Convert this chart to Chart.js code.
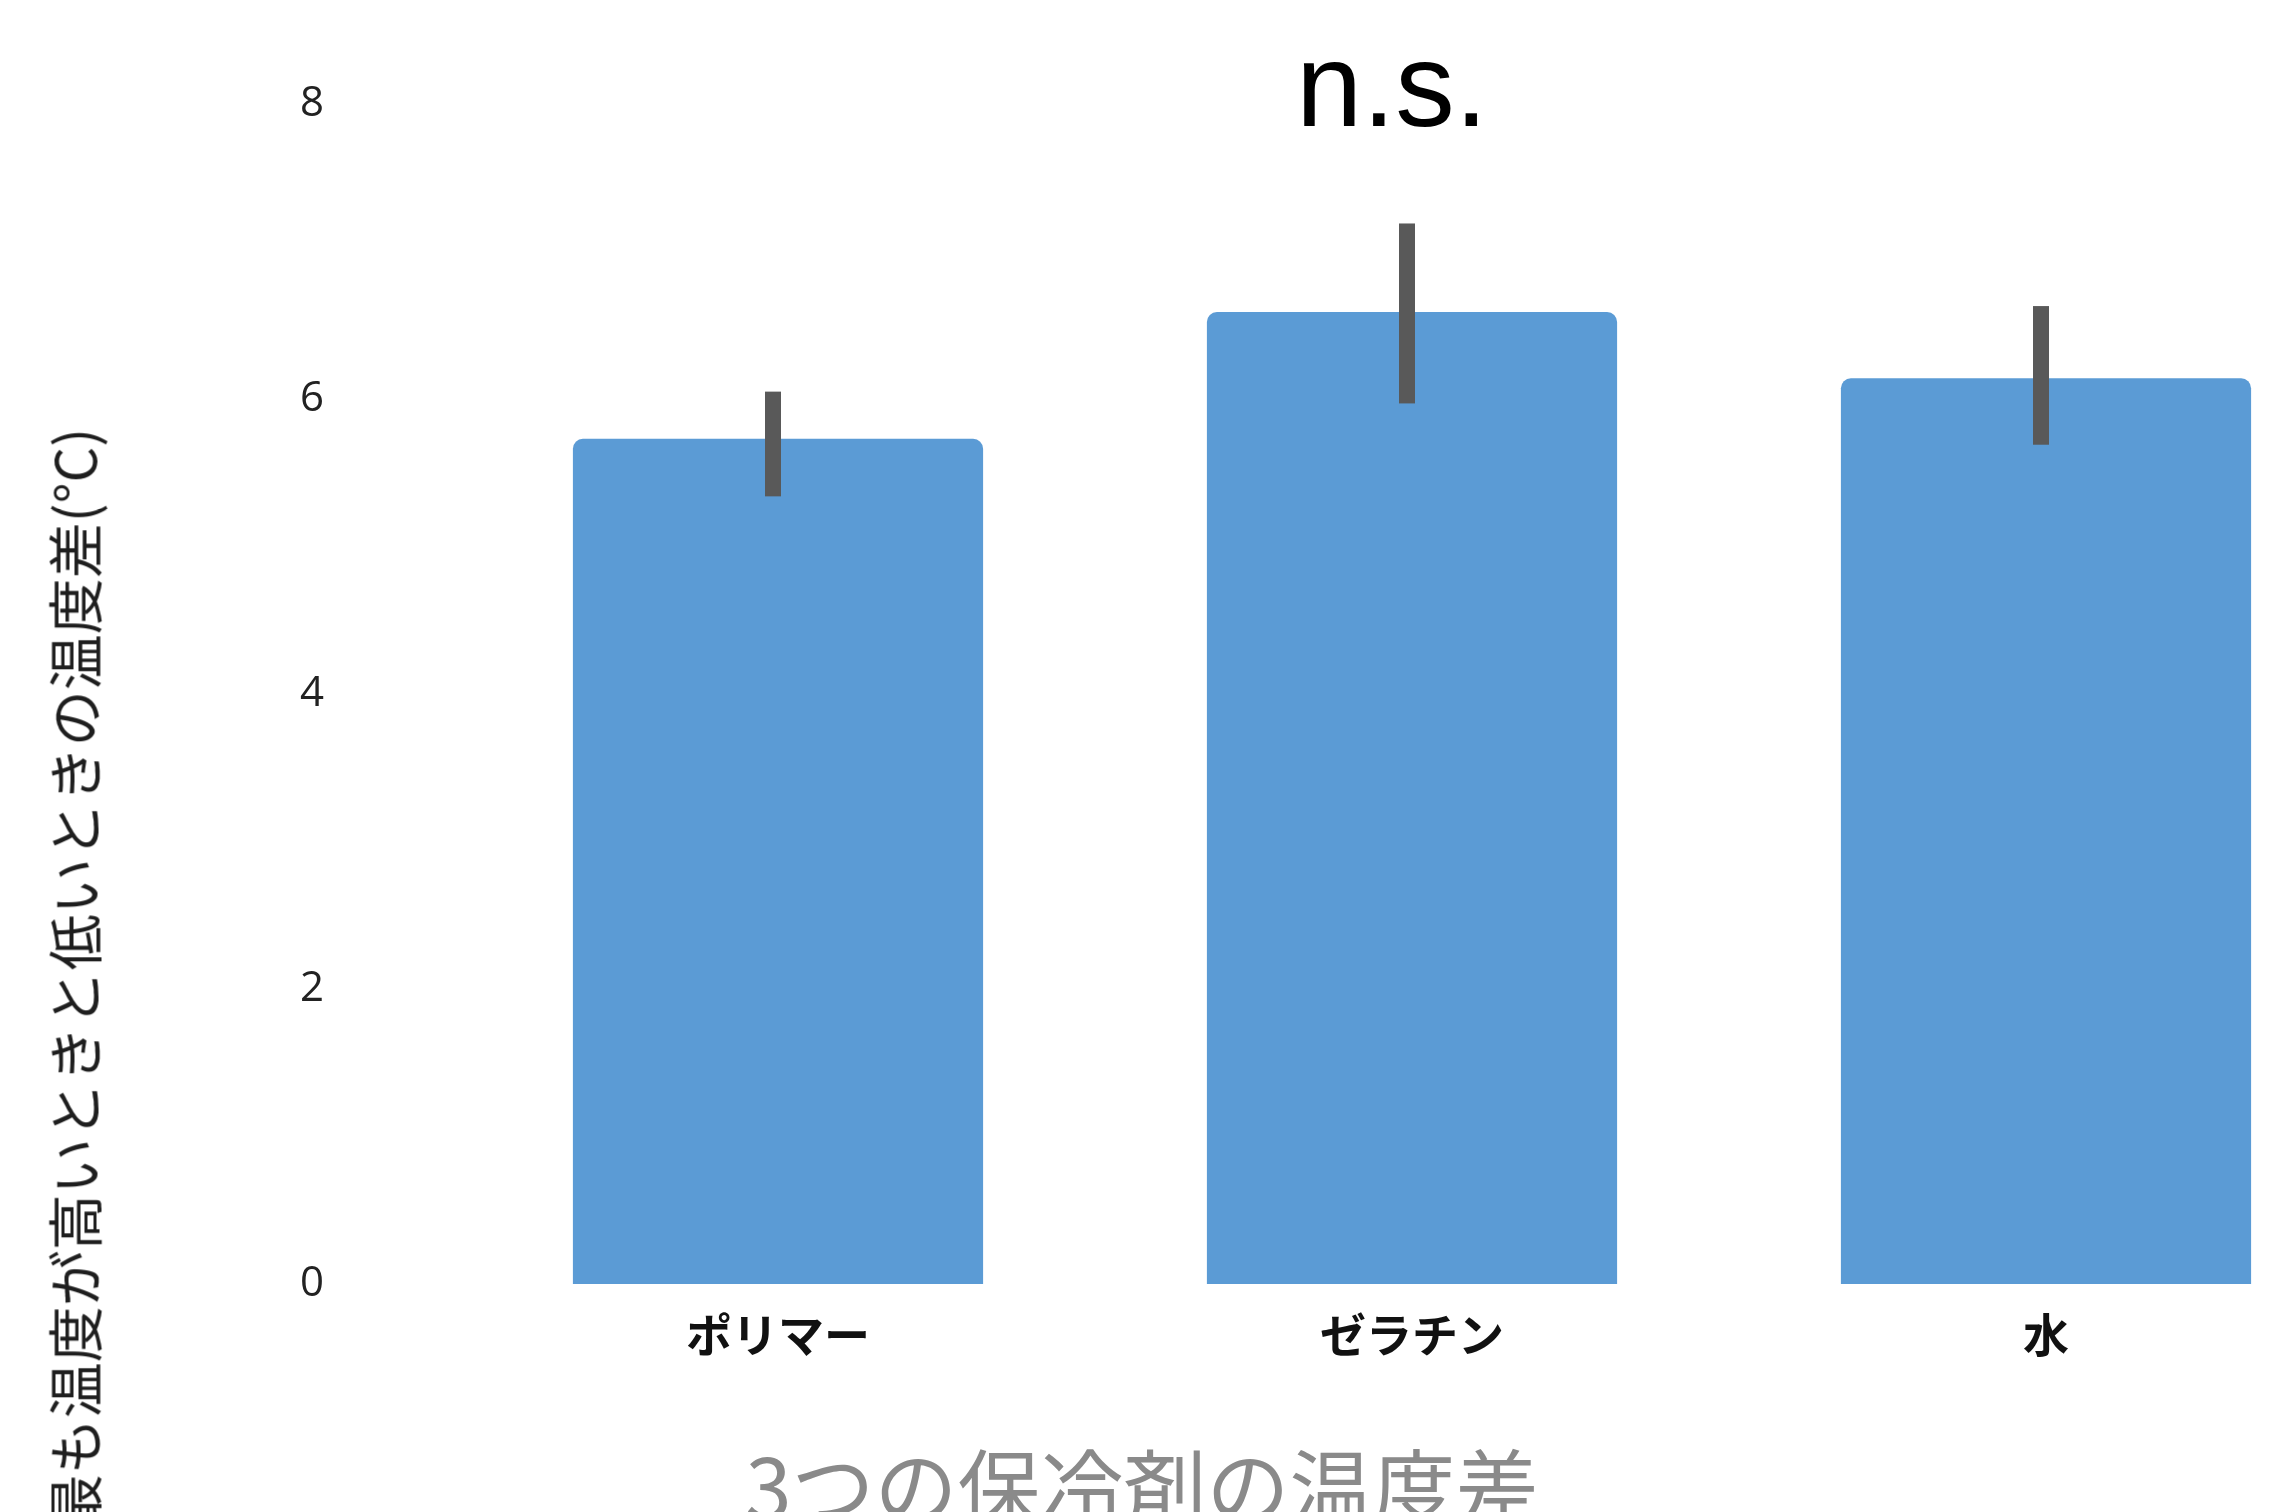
<!DOCTYPE html>
<html lang="ja">
<head>
<meta charset="utf-8">
<title>3つの保冷剤の温度差</title>
<script src="https://cdn.jsdelivr.net/npm/chart.js@4.4.1/dist/chart.umd.min.js"></script>
<style>
  html, body { margin: 0; padding: 0; background: #fff; overflow: hidden; }
  #wrap { position: relative; width: 2271px; height: 1512px; overflow: hidden; background: #fff; }
  #chart { position: absolute; left: 0; top: 0; }
  .txt { position: absolute; white-space: nowrap; line-height: 1; }
  #ns {
    left: 1392px; top: 16px; transform: translateX(-50%);
    font: 119px 'Liberation Sans', Arial, sans-serif; color: #000;
  }
  #x-title {
    left: 1142px; top: 1423px; transform: translateX(-50%);
    font: 83px 'Noto Sans CJK JP', sans-serif; color: #8a8a8a;
  }
  #y-title {
    left: 72px; top: 428px; transform-origin: 0 0;
    transform: rotate(-90deg) translate(-100%, -50%);
    font: 56px 'Noto Sans CJK JP', sans-serif; color: #1e1e1e;
  }
</style>
</head>
<body>
<div id="wrap">
  <canvas id="chart" width="2400" height="1512"></canvas>
  <div class="txt" id="ns">n.s.</div>
  <div class="txt" id="x-title">3つの保冷剤の温度差</div>
  <div class="txt" id="y-title">最も温度が高いときと低いときの温度差(°C)</div>
</div>

<script>
// ---- Data ----
const categories = ['ポリマー', 'ゼラチン', '水'];
const meanDiff   = [5.73, 6.59, 6.14];   // bar heights (°C)
const errLow     = [5.34, 5.97, 5.69];   // error bar bottoms
const errHigh    = [6.05, 7.19, 6.63];   // error bar tops
const yTicks     = [0, 2, 4, 6, 8];

(function() {
  'use strict';

  const colors = {
    bar:   '#5b9bd5',
    err:   '#595959',
    tickY: '#222222',
    tickX: '#111111',
  };

  // ---- error bars drawn on top of the bars ----
  const errorBars = {
    id: 'errorBars',
    afterDatasetsDraw(chart) {
      const { ctx } = chart;
      const y = chart.scales.y;
      const meta = chart.getDatasetMeta(0);
      ctx.save();
      ctx.fillStyle = colors.err;
      meta.data.forEach((bar, i) => {
        const top = y.getPixelForValue(errHigh[i]);
        const bottom = y.getPixelForValue(errLow[i]);
        ctx.fillRect(bar.x - 5 - 8, top, 16, bottom - top);
      });
      ctx.restore();
    }
  };

  function initChart() {
    const canvas = document.getElementById('chart');

    new Chart(canvas, {
      type: 'bar',
      data: {
        labels: categories,
        datasets: [{
          data: meanDiff,
          backgroundColor: colors.bar,
          borderRadius: { topLeft: 10, topRight: 10 },
          borderSkipped: 'bottom',
          barPercentage: 0.647,
          categoryPercentage: 1,
        }]
      },
      options: {
        responsive: false,
        animation: false,
        devicePixelRatio: 1,
        // left padding puts the y tick labels where they sit in the picture
        layout: { padding: { top: 104, right: 37, bottom: 0, left: 300 } },
        plugins: {
          legend: { display: false },
          tooltip: { enabled: false },
        },
        scales: {
          x: {
            grid: { display: false },
            border: { display: false },
            ticks: {
              color: colors.tickX,
              padding: 15,
              font: { family: "'Noto Sans CJK JP', sans-serif", size: 46, weight: 'bold' },
            },
            afterFit: s => { s.height = 228; },
          },
          y: {
            min: 0,
            max: 8,
            grid: { display: false },
            border: { display: false },
            afterBuildTicks: s => { s.ticks = yTicks.map(v => ({ value: v })); },
            ticks: {
              color: colors.tickY,
              padding: 0,
              crossAlign: 'far',
              font: { family: "'Open Sans', sans-serif", size: 42 },
            },
            afterFit: s => { s.width = 161; },
          }
        }
      },
      plugins: [errorBars]
    });
  }

  initChart();
})();
</script>
</body>
</html>
